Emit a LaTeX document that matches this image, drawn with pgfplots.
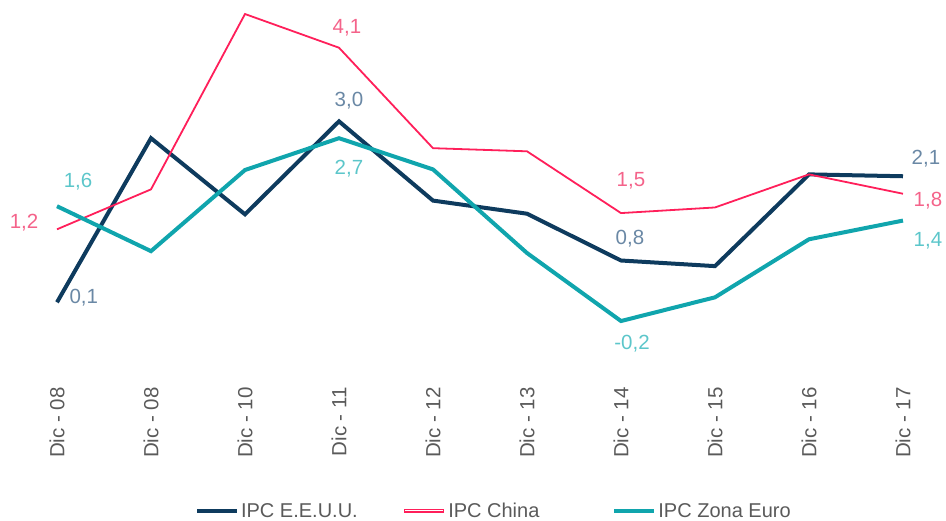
\documentclass[border=0pt]{standalone}
\usepackage{pgfplots}
\pgfplotsset{compat=1.18}
\usepackage{fontspec}
\setmainfont{Liberation Sans}
\definecolor{cUS}{HTML}{0E3B5E}
\definecolor{cCN}{HTML}{FF1F5A}
\definecolor{cEU}{HTML}{10A5AD}
\definecolor{lUS}{HTML}{6A88A5}
\definecolor{lCN}{HTML}{F4638A}
\definecolor{lEU}{HTML}{5CC6CA}
\definecolor{txt}{HTML}{5A5A5A}
\begin{document}
\begin{tikzpicture}[x=1pt,y=1pt]
\path[use as bounding box] (0,0) rectangle (946,521);
\begin{axis}[
  at={(57pt,175pt)}, anchor=south west,
  scale only axis, width=846pt, height=345.7pt,
  xmin=0, xmax=9, ymin=-0.6, ymax=4.94,
  axis lines=none,
  clip=false,
  xtick=\empty,
  ytick=\empty,
  legend columns=3,
  legend style={at={(0.163,-0.477)}, anchor=west, draw=none, fill=none, inner sep=0pt,
    font=\fontsize{20}{22}\selectfont\color{txt}},
  legend cell align=left,
]
\addplot[cUS, line width=4pt, line join=miter, legend image code/.code={\draw[cUS,line width=4pt] (0pt,0pt) -- (40pt,0pt);}] coordinates {
 (0,0.10) (1,2.73) (2,1.51) (3,3.00) (4,1.73) (5,1.52) (6,0.77) (7,0.68) (8,2.15) (9,2.12)};
\addlegendentry{IPC E.E.U.U.\rule{42pt}{0pt}}
\addplot[cCN, line width=1.8pt, legend image code/.code={\draw[cCN,line width=4.5pt] (0pt,0pt) -- (40pt,0pt); \draw[white,line width=1.2pt] (1pt,0pt) -- (39pt,0pt);}] coordinates {
 (0,1.27) (1,1.91) (2,4.72) (3,4.18) (4,2.57) (5,2.52) (6,1.53) (7,1.62) (8,2.15) (9,1.84)};
\addlegendentry{IPC China\rule{71pt}{0pt}}
\addplot[cEU, line width=4pt, legend image code/.code={\draw[cEU,line width=4pt] (0pt,0pt) -- (40pt,0pt);}] coordinates {
 (0,1.64) (1,0.92) (2,2.22) (3,2.73) (4,2.23) (5,0.89) (6,-0.20) (7,0.18) (8,1.11) (9,1.41)};
\addlegendentry{IPC Zona Euro}
\begin{scope}[every node/.style={font=\fontsize{20.5}{22}\selectfont}]
\node[lUS, anchor=west] at ([xshift=9pt,yshift=5pt]axis cs:0,0.10) {0,1};
\node[lCN] at ([xshift=-33pt,yshift=7pt]axis cs:0,1.27) {1,2};
\node[lEU] at ([xshift=21pt,yshift=25pt]axis cs:0,1.64) {1,6};
\node[lUS] at ([xshift=10pt,yshift=21pt]axis cs:3,3.00) {3,0};
\node[lCN] at ([xshift=8pt,yshift=20pt]axis cs:3,4.18) {4,1};
\node[lEU] at ([xshift=10pt,yshift=-30pt]axis cs:3,2.73) {2,7};
\node[lCN] at ([xshift=10pt,yshift=32pt]axis cs:6,1.53) {1,5};
\node[lUS] at ([xshift=9pt,yshift=22pt]axis cs:6,0.77) {0,8};
\node[lEU] at ([xshift=11pt,yshift=-23pt]axis cs:6,-0.20) {-0,2};
\node[lUS] at ([xshift=23pt,yshift=18pt]axis cs:9,2.12) {2,1};
\node[lCN] at ([xshift=25pt,yshift=-7pt]axis cs:9,1.84) {1,8};
\node[lEU] at ([xshift=25pt,yshift=-20pt]axis cs:9,1.41) {1,4};
\end{scope}
\end{axis}
\begin{scope}[every node/.style={font=\fontsize{20.5}{22}\selectfont, text=txt, rotate=90, anchor=east, inner sep=0pt}]
\foreach \lab [count=\i from 0] in {Dic - 08,Dic - 08,Dic - 10,Dic - 11,Dic - 12,Dic - 13,Dic - 14,Dic - 15,Dic - 16,Dic - 17}{
  \pgfmathsetmacro{\xx}{57+94*\i}
  \node at (\xx,134) {\lab};
}
\end{scope}
\end{tikzpicture}
\end{document}
